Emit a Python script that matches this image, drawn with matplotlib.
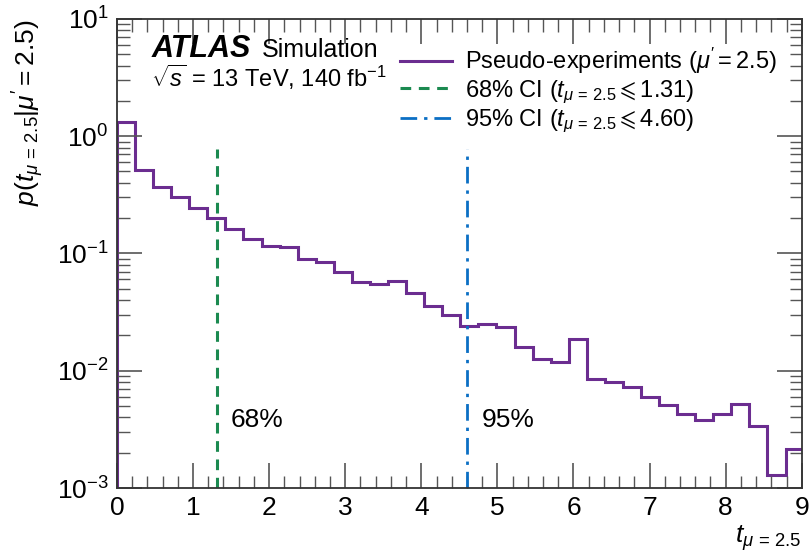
import numpy as np
import matplotlib
matplotlib.use("Agg")
import matplotlib.pyplot as plt
from matplotlib.ticker import LogLocator, MultipleLocator, NullFormatter

plt.rcParams['font.family'] = ['Liberation Sans', 'DejaVu Sans']
plt.rcParams['mathtext.fontset'] = 'custom'
plt.rcParams['mathtext.rm'] = 'Liberation Sans'
plt.rcParams['mathtext.it'] = 'Liberation Sans:italic'
plt.rcParams['mathtext.bf'] = 'Liberation Sans:bold'

# pseudo-experiment distribution of the test statistic
bin_width = 0.2375
density = [1.32, 0.513, 0.370, 0.300, 0.242, 0.199, 0.161, 0.134, 0.115, 0.114,
           0.0894, 0.0838, 0.0697, 0.0573, 0.0544, 0.0585, 0.0462, 0.0355, 0.0298, 0.0240,
           0.0248, 0.0238, 0.0160, 0.0127, 0.0119, 0.0185, 0.00843, 0.00805, 0.00721, 0.00600,
           0.00509, 0.00424, 0.00384, 0.00432, 0.00519, 0.00339, 0.00129, 0.00215]
edges = np.arange(len(density) + 1) * bin_width

ci68 = 1.31
ci95 = 4.60
line_top = 0.78

purple = '#6b2d90'
green = '#1b8a50'
blue = '#0b6fc4'

fig = plt.figure(figsize=(8.09, 5.54), dpi=100)
ax = fig.add_axes([0.1446, 0.119, 0.8464, 0.847])

ax.stairs(density, edges, baseline=1e-5, color=purple, lw=2.2,
          label=r"Pseudo-experiments ($\mu^{\prime}=2.5$)")
ax.plot([ci68, ci68], [1e-3, line_top], color=green, lw=2.2, ls=(0, (3.5, 2.5)),
        label=r"68% CI ($t_{\mu\,=\,2.5}\leqslant$1.31)")
ax.plot([ci95, ci95], [1e-3, line_top], color=blue, lw=2.0, ls=(0, (6, 2.5, 1.2, 2.5)),
        label=r"95% CI ($t_{\mu\,=\,2.5}\leqslant$4.60)")

ax.set_yscale('log')
ax.set_xlim(0, 9)
ax.set_ylim(1e-3, 10)

ax.xaxis.set_major_locator(MultipleLocator(1))
ax.xaxis.set_minor_locator(MultipleLocator(0.2))
ax.yaxis.set_major_locator(LogLocator(base=10, numticks=10))
ax.yaxis.set_minor_locator(LogLocator(base=10, subs=np.arange(2, 10), numticks=10))
ax.yaxis.set_minor_formatter(NullFormatter())

ax.tick_params(which='both', direction='in', top=True, right=True, labelsize=19, pad=6)
ax.tick_params(which='major', length=18, width=1.2, color='#555555')
ax.tick_params(which='minor', length=9, width=1.0, color='#555555')
for sp in ax.spines.values():
    sp.set_linewidth(1.3)
    sp.set_color('#333333')

ax.set_ylabel(r"$p(t_{\mu\,=\,2.5}|\mu^{\prime}=2.5)$", fontsize=19, loc='top', labelpad=8)
ax.set_xlabel(r"$t_{\mu\,=\,2.5}$", fontsize=19, loc='right')
ax.xaxis.set_label_coords(1.0, -0.075)

ax.text(0.051, 0.918, "ATLAS", transform=ax.transAxes, fontsize=22,
        fontweight='bold', fontstyle='italic')
ax.text(0.212, 0.918, "Simulation", transform=ax.transAxes, fontsize=18)
ax.text(0.05, 0.855, r"$\sqrt{s}$ = 13 TeV, 140 fb$^{-1}$", transform=ax.transAxes, fontsize=17)

ax.text(1.5, 3.3e-3, "68%", fontsize=19)
ax.text(4.8, 3.3e-3, "95%", fontsize=19)

ax.legend(loc='upper left', bbox_to_anchor=(0.40, 0.962), frameon=False, fontsize=17,
          handlelength=2.2, handletextpad=0.55, labelspacing=0.08, borderaxespad=0)

fig.savefig("out.png", dpi=100)
